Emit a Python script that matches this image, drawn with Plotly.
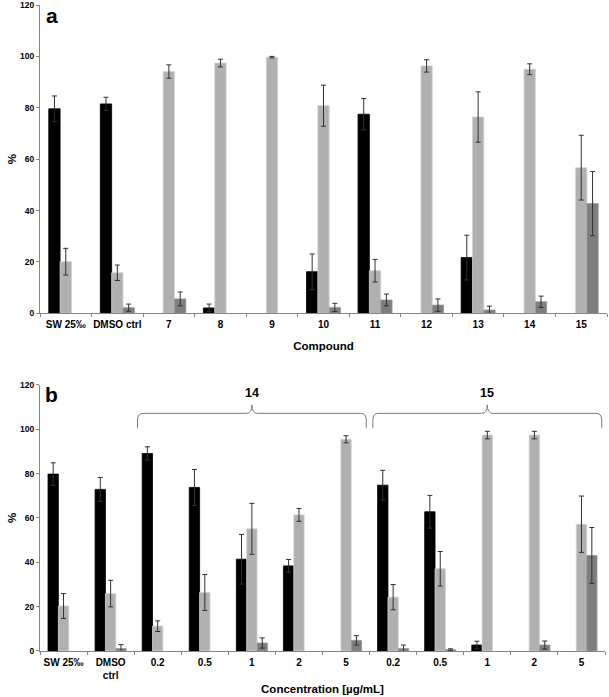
import plotly.graph_objects as go

# ---------------- data ----------------
cats_a = ["SW 25‰", "DMSO ctrl", "7", "8", "9", "10", "11", "12", "13", "14", "15"]
black_a = [79.6, 81.5, None, 2.1, None, 16.2, 77.5, None, 21.7, None, None]
black_a_err = [5.0, 2.6, None, 1.5, None, 6.9, 6.1, None, 8.7, None, None]
light_a = [20.1, 15.8, 94.1, 97.4, 99.7, 80.8, 16.6, 96.3, 76.4, 95.0, 56.7]
light_a_err = [5.2, 3.0, 2.6, 1.5, 0.3, 8.0, 4.4, 2.4, 9.8, 2.1, 12.6]
dark_a = [None, 2.2, 5.6, None, None, 2.3, 5.2, 3.2, 1.3, 4.5, 42.7]
dark_a_err = [None, 1.4, 2.7, None, None, 1.6, 2.3, 2.4, 1.5, 2.2, 12.5]

cats_b = ["SW 25‰", "DMSO<br>ctrl", "0.2", "0.5", "1", "2", "5", "0.2", "0.5", "1", "2", "5"]
black_b = [79.8, 72.9, 89.1, 73.8, 41.4, 38.4, None, 74.8, 62.8, 2.7, None, None]
black_b_err = [5.1, 5.4, 3.0, 8.1, 11.2, 2.9, None, 6.7, 7.4, 1.7, None, None]
light_b = [20.3, 25.9, 11.2, 26.4, 55.1, 61.4, 95.5, 24.3, 37.1, 97.4, 97.4, 57.2]
light_b_err = [5.6, 6.0, 2.4, 8.1, 11.5, 2.9, 1.6, 5.7, 7.8, 1.7, 1.7, 12.7]
dark_b = [None, 1.1, None, None, 3.6, None, 4.8, 1.1, 0.6, None, 2.7, 43.1]
dark_b_err = [None, 1.8, None, None, 2.3, None, 2.1, 1.6, 0.4, None, 1.8, 12.6]

groups_b = ["14", "15"]
group_b_members = [[2, 3, 4, 5, 6], [7, 8, 9, 10, 11]]

y_ticks = [0, 20, 40, 60, 80, 100, 120]

# ---------------- style ----------------
FONT = "Liberation Sans, Arial, sans-serif"
COLORS = ["#000000", "#b0b0b0", "#7e7e7e"]
EDGES = ["#000000", "#d2d2d2", "#989898"]
AXIS_COLOR = "#858585"

fig = go.Figure()


def add_panel(cats, series, xa, ya):
    xs = list(range(len(cats)))
    for i, (vals, errs) in enumerate(series):
        fig.add_trace(go.Bar(
            x=xs, y=vals, xaxis=xa, yaxis=ya, offsetgroup=str(i),
            marker=dict(color=COLORS[i], line=dict(color=EDGES[i], width=0.8)),
            error_y=dict(type="data", array=errs, visible=True,
                         color="#303030", thickness=1, width=2.5),
            showlegend=False,
        ))


add_panel(cats_a, [(black_a, black_a_err), (light_a, light_a_err), (dark_a, dark_a_err)], "x", "y")
add_panel(cats_b, [(black_b, black_b_err), (light_b, light_b_err), (dark_b, dark_b_err)], "x2", "y2")

tickfont_x = dict(family=FONT, size=10, color="#000000", weight="bold")
tickfont_y = dict(family=FONT, size=8.5, color="#000000", weight="bold")
titlefont = dict(family=FONT, size=11.5, color="#000000", weight="bold")


def xaxis_cfg(cats, domain, title, standoff):
    n = len(cats)
    return dict(
        domain=domain, range=[-0.5, n - 0.5], tickmode="array",
        tickvals=list(range(n)), ticktext=cats, ticks="",
        minor=dict(tickmode="array", tickvals=[k - 0.5 for k in range(n + 1)],
                   ticks="outside", ticklen=3, tickcolor=AXIS_COLOR, showgrid=False),
        showline=True, linecolor=AXIS_COLOR, linewidth=1, showgrid=False,
        zeroline=False, tickfont=tickfont_x, ticklabelstandoff=2,
        ticklabeloverflow="allow",
        title=dict(text=title, font=titlefont, standoff=standoff),
        automargin=False, fixedrange=True,
    )


def yaxis_cfg(domain, anchor):
    return dict(
        domain=domain, range=[0, 120], tickmode="array", tickvals=y_ticks,
        ticks="outside", ticklen=3, tickcolor=AXIS_COLOR, showline=True,
        linecolor=AXIS_COLOR, linewidth=1, showgrid=False, zeroline=False,
        tickfont=tickfont_y, anchor=anchor, ticklabeloverflow="allow",
        title=dict(text="%", font=titlefont, standoff=1),
        automargin=False, fixedrange=True,
    )


fig.update_layout(
    width=609, height=697,
    margin=dict(l=40, r=2, t=5, b=46),
    paper_bgcolor="white", plot_bgcolor="white",
    barmode="group", bargap=0.34, bargroupgap=0,
    font=dict(family=FONT, color="#000000"),
    xaxis=xaxis_cfg(cats_a, [0, 1], "Compound", 12) | dict(anchor="y"),
    yaxis=yaxis_cfg([0.5227, 1.0], "x"),
    xaxis2=xaxis_cfg(cats_b, [0, 0.9965], "Concentration [µg/mL]", 4) | dict(anchor="y2"),
    yaxis2=yaxis_cfg([0.0, 0.4118], "x2"),
)

# panel letters
fig.add_annotation(text="<b>a</b>", xref="x domain", yref="y", x=0.021, y=116.0,
                   xanchor="center", yanchor="middle", showarrow=False,
                   font=dict(family=FONT, size=21, color="#000000"))
fig.add_annotation(text="<b>b</b>", xref="x2 domain", yref="y2", x=0.021, y=115.5,
                   xanchor="center", yanchor="middle", showarrow=False,
                   font=dict(family=FONT, size=21, color="#000000"))

# curly braces over the concentration groups in panel b
y_end, y_bar, y_tip, dx, dy = 100.5, 107.2, 111.0, 0.12, 3.0
for label, members in zip(groups_b, group_b_members):
    xc = (members[0] + members[-1]) / 2.0
    half = (members[-1] - members[0]) / 2.0 + 0.43
    xl, xr = xc - half, xc + half
    path = (f"M {xl},{y_end} L {xl},{y_bar - dy} Q {xl},{y_bar} {xl + dx},{y_bar} "
            f"L {xc - dx},{y_bar} Q {xc},{y_bar} {xc},{y_tip} "
            f"Q {xc},{y_bar} {xc + dx},{y_bar} L {xr - dx},{y_bar} "
            f"Q {xr},{y_bar} {xr},{y_bar - dy} L {xr},{y_end}")
    fig.add_shape(type="path", path=path, xref="x2", yref="y2",
                  line=dict(color="#7a7a7a", width=1))
    fig.add_annotation(text=f"<b>{label}</b>", xref="x2", yref="y2", x=xc, y=116.3,
                       xanchor="center", yanchor="middle", showarrow=False,
                       font=dict(family=FONT, size=12.5, color="#000000"))

fig.write_html(
    "out.html",
    config={"displayModeBar": False},
    post_script="document.body.style.margin='0';document.body.style.overflow='hidden';",
)
